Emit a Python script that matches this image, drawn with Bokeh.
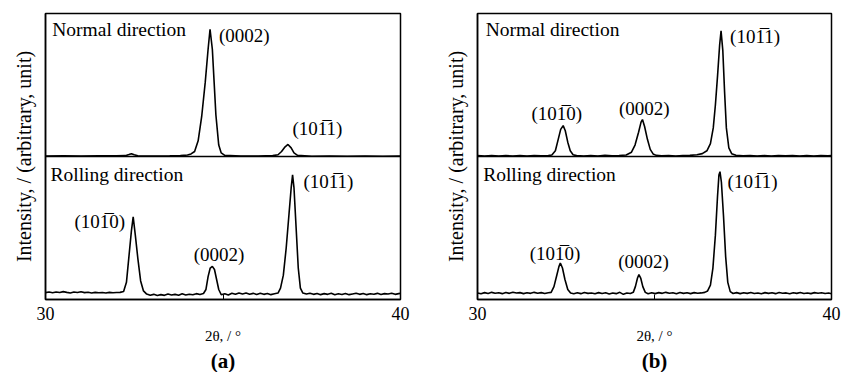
from bokeh.plotting import figure
from bokeh.models import Range1d, FixedTicker, Span, Label, Title
from bokeh.layouts import row
from bokeh.embed import file_html
from bokeh.resources import INLINE

# ---------------- data ----------------
x_ticks = [30, 35, 40]
x_tick_labels = {30: "30", 35: "", 40: "40"}

L1010 = "(101\u03050)"
L1011 = "(101\u03051)"
L0002 = "(0002)"

# (a) normal direction: 2theta, relative intensity
na_x = [30.0, 30.5, 31.0, 31.5, 32.0, 32.25, 32.35, 32.42, 32.5, 32.6, 33.0, 33.5, 33.8,
        34.0, 34.1, 34.2, 34.3, 34.4, 34.5, 34.58, 34.635, 34.7, 34.75, 34.8, 34.88, 34.95,
        35.05, 35.5, 36.0, 36.4, 36.55, 36.65, 36.75, 36.83, 36.92, 37.0, 37.1, 37.5, 38.0,
        38.5, 39.0, 39.5, 40.0]
na_y = [0.004, 0.005, 0.004, 0.005, 0.005, 0.006, 0.014, 0.02, 0.012, 0.005, 0.004, 0.005, 0.006,
        0.01, 0.018, 0.035, 0.11, 0.28, 0.52, 0.75, 0.89, 0.75, 0.52, 0.29, 0.08, 0.025,
        0.008, 0.003, 0.004, 0.006, 0.012, 0.035, 0.068, 0.084, 0.06, 0.025, 0.008, 0.002, 0.003,
        0.002, 0.003, 0.002, 0.003]

# (a) rolling direction
ra_x = [30.0, 30.1, 30.2, 30.3, 30.4, 30.5, 30.6, 30.7, 30.8, 30.9, 31.0, 31.1, 31.2, 31.3,
        31.4, 31.5, 31.6, 31.7, 31.8, 31.9, 32.0, 32.1, 32.2, 32.28, 32.35, 32.42, 32.47,
        32.53, 32.6, 32.68, 32.76, 32.85, 32.95, 33.05, 33.15, 33.25, 33.35, 33.45, 33.55,
        33.65, 33.75, 33.85, 33.95, 34.05, 34.15, 34.25, 34.35, 34.45, 34.52, 34.58, 34.64,
        34.7, 34.76, 34.82, 34.88, 34.95, 35.05, 35.15, 35.25, 35.35, 35.45, 35.55, 35.65,
        35.75, 35.85, 35.95, 36.05, 36.15, 36.25, 36.35, 36.45, 36.55, 36.62, 36.7, 36.78,
        36.86, 36.92, 36.96, 37.0, 37.06, 37.12, 37.18, 37.25, 37.35, 37.45, 37.55, 37.65,
        37.75, 37.85, 37.95, 38.05, 38.15, 38.25, 38.35, 38.45, 38.55, 38.65, 38.75, 38.85,
        38.95, 39.05, 39.15, 39.25, 39.35, 39.45, 39.55, 39.65, 39.75, 39.85, 39.95, 40.0]
ra_y = [0.048, 0.052, 0.047, 0.053, 0.049, 0.055, 0.05, 0.046, 0.052, 0.049, 0.054, 0.048, 0.051, 0.046,
        0.05, 0.047, 0.049, 0.045, 0.05, 0.047, 0.049, 0.05, 0.056, 0.12, 0.3, 0.48, 0.578,
        0.45, 0.29, 0.13, 0.06, 0.038, 0.03, 0.036, 0.028, 0.034, 0.029, 0.038, 0.031,
        0.036, 0.03, 0.04, 0.032, 0.037, 0.033, 0.041, 0.035, 0.042, 0.07, 0.16, 0.22,
        0.232, 0.21, 0.14, 0.07, 0.033, 0.04, 0.032, 0.044, 0.036, 0.046, 0.038, 0.045,
        0.037, 0.043, 0.035, 0.044, 0.036, 0.042, 0.034, 0.04, 0.045, 0.08, 0.17, 0.36,
        0.6, 0.78, 0.871, 0.78, 0.5, 0.22, 0.08, 0.045, 0.038, 0.044, 0.036, 0.042,
        0.034, 0.041, 0.036, 0.043, 0.033, 0.04, 0.035, 0.042, 0.034, 0.039, 0.044, 0.036,
        0.042, 0.034, 0.04, 0.037, 0.043, 0.035, 0.041, 0.038, 0.044, 0.036, 0.041, 0.043]

# (b) normal direction
nb_x = [30.0, 30.2, 30.4, 30.6, 30.8, 31.0, 31.2, 31.4, 31.6, 31.8, 32.0, 32.1, 32.2, 32.28,
        32.35, 32.42, 32.48, 32.55, 32.62, 32.7, 32.8, 33.0, 33.2, 33.4, 33.6, 33.8, 34.0,
        34.2, 34.35, 34.45, 34.55, 34.62, 34.66, 34.72, 34.8, 34.88, 34.96, 35.05, 35.2,
        35.4, 35.6, 35.8, 36.0, 36.2, 36.35, 36.48, 36.58, 36.66, 36.72, 36.78, 36.84, 36.88,
        36.93, 36.98, 37.03, 37.1, 37.18, 37.3, 37.5, 37.7, 37.9, 38.1, 38.3, 38.5, 38.7,
        38.9, 39.1, 39.3, 39.5, 39.7, 39.9, 40.0]
nb_y = [0.006, 0.004, 0.007, 0.004, 0.006, 0.003, 0.006, 0.004, 0.007, 0.005, 0.006, 0.01, 0.04, 0.12,
        0.19, 0.216, 0.18, 0.1, 0.04, 0.012, 0.006, 0.004, 0.007, 0.004, 0.008, 0.005, 0.007,
        0.01, 0.03, 0.08, 0.17, 0.24, 0.258, 0.21, 0.12, 0.05, 0.018, 0.008, 0.005,
        0.007, 0.004, 0.007, 0.008, 0.012, 0.02, 0.04, 0.09, 0.2, 0.36, 0.56, 0.78, 0.878,
        0.74, 0.45, 0.2, 0.06, 0.02, 0.008, 0.005, 0.007, 0.004, 0.006, 0.004, 0.007, 0.005,
        0.006, 0.004, 0.006, 0.004, 0.007, 0.005, 0.006]

# (b) rolling direction
rb_x = [30.0, 30.1, 30.2, 30.3, 30.4, 30.5, 30.6, 30.7, 30.8, 30.9, 31.0, 31.1, 31.2, 31.3,
        31.4, 31.5, 31.6, 31.7, 31.8, 31.9, 32.0, 32.08, 32.16, 32.24, 32.3, 32.34, 32.4,
        32.47, 32.55, 32.63, 32.72, 32.82, 32.92, 33.02, 33.12, 33.22, 33.32, 33.42, 33.52,
        33.62, 33.72, 33.82, 33.92, 34.02, 34.12, 34.22, 34.32, 34.4, 34.46, 34.52, 34.56,
        34.61, 34.67, 34.74, 34.82, 34.92, 35.02, 35.12, 35.22, 35.32, 35.42, 35.52, 35.62,
        35.72, 35.82, 35.92, 36.02, 36.12, 36.22, 36.32, 36.42, 36.5, 36.58, 36.65, 36.72,
        36.78, 36.82, 36.85, 36.89, 36.95, 37.01, 37.07, 37.14, 37.22, 37.32, 37.42, 37.52,
        37.62, 37.72, 37.82, 37.92, 38.02, 38.12, 38.22, 38.32, 38.42, 38.52, 38.62, 38.72,
        38.82, 38.92, 39.02, 39.12, 39.22, 39.32, 39.42, 39.52, 39.62, 39.72, 39.82, 39.92, 40.0]
rb_y = [0.046, 0.04, 0.048, 0.042, 0.05, 0.044, 0.047, 0.041, 0.049, 0.043, 0.051, 0.045, 0.048, 0.041,
        0.047, 0.043, 0.05, 0.044, 0.048, 0.042, 0.047, 0.05, 0.09, 0.17, 0.23, 0.255, 0.22,
        0.14, 0.07, 0.045, 0.04, 0.047, 0.041, 0.049, 0.043, 0.046, 0.04, 0.048, 0.042,
        0.047, 0.039, 0.046, 0.041, 0.05, 0.036, 0.045, 0.042, 0.05, 0.09, 0.15, 0.174,
        0.15, 0.09, 0.05, 0.04, 0.047, 0.041, 0.048, 0.043, 0.05, 0.044, 0.047, 0.04,
        0.049, 0.043, 0.047, 0.041, 0.048, 0.044, 0.046, 0.05, 0.06, 0.1, 0.22, 0.45,
        0.72, 0.87, 0.894, 0.82, 0.58, 0.3, 0.12, 0.055, 0.042, 0.048, 0.041, 0.047,
        0.043, 0.049, 0.042, 0.046, 0.04, 0.048, 0.043, 0.047, 0.041, 0.049, 0.044, 0.046,
        0.04, 0.047, 0.043, 0.049, 0.042, 0.046, 0.041, 0.048, 0.044, 0.047, 0.042, 0.045, 0.04]

FONT = "Liberation Serif"
OFFSET = 1.0  # vertical offset of the normal-direction trace


def make_panel(nx, ny, rx, ry, texts, tag, width, left, right):
    p = figure(width=width, height=372, x_range=Range1d(30, 40), y_range=Range1d(0, 2),
               output_backend="svg", toolbar_location=None,
               min_border_left=left, min_border_right=right,
               min_border_top=13, min_border_bottom=72)
    p.grid.visible = False
    p.outline_line_color = "black"
    p.outline_line_width = 1.5
    p.background_fill_color = "white"
    p.border_fill_color = "white"

    # x axis
    xa = p.xaxis[0]
    xa.ticker = FixedTicker(ticks=x_ticks)
    xa.major_label_overrides = x_tick_labels
    xa.minor_tick_line_color = None
    xa.major_tick_in = 5
    xa.major_tick_out = 0
    xa.major_tick_line_color = "black"
    xa.axis_line_color = "black"
    xa.axis_line_width = 1.5
    xa.major_label_text_font = FONT
    xa.major_label_text_font_size = "18px"
    xa.major_label_text_color = "black"
    xa.major_label_standoff = 7
    xa.axis_label = "2\u03b8, / \u00b0"
    xa.axis_label_text_font = FONT
    xa.axis_label_text_font_size = "15px"
    xa.axis_label_text_font_style = "normal"
    xa.axis_label_text_color = "black"
    xa.axis_label_standoff = 5

    # y axis: label only
    ya = p.yaxis[0]
    ya.ticker = FixedTicker(ticks=[])
    ya.minor_tick_line_color = None
    ya.major_tick_in = 0
    ya.major_tick_out = 0
    ya.axis_line_color = "black"
    ya.axis_line_width = 1.5
    ya.axis_label = "Intensity, / (arbitrary, unit)"
    ya.axis_label_text_font = FONT
    ya.axis_label_text_font_size = "20px"
    ya.axis_label_text_font_style = "normal"
    ya.axis_label_text_color = "black"
    ya.axis_label_standoff = 11

    # divider
    p.add_layout(Span(location=OFFSET, dimension="width", line_color="black", line_width=1.5))

    # traces
    p.line(nx, [OFFSET + v for v in ny], line_color="black", line_width=1.6)
    p.line(rx, ry, line_color="black", line_width=1.6)

    for (tx, ty, txt, align, size) in texts:
        p.add_layout(Label(x=tx, y=ty, text=txt, text_font=FONT, text_font_size=size,
                           text_align=align, text_baseline="middle", text_color="black"))

    t = Title(text=tag, align="center", text_font=FONT, text_font_size="21px",
              text_font_style="bold", text_color="black", standoff=0)
    p.add_layout(t, "below")
    return p


texts_a = [
    (30.19, 1.888, "Normal direction", "left", "19.5px"),
    (30.14, 0.871, "Rolling direction", "left", "19.5px"),
    (35.6, 1.847, L0002, "center", "19px"),
    (37.66, 1.199, L1011, "center", "19px"),
    (31.53, 0.546, L1010, "center", "19px"),
    (34.89, 0.314, L0002, "center", "19px"),
    (37.97, 0.824, L1011, "center", "19px"),
]
texts_b = [
    (30.23, 1.888, "Normal direction", "left", "19.5px"),
    (30.16, 0.871, "Rolling direction", "left", "19.5px"),
    (32.24, 1.301, L1010, "center", "19px"),
    (34.71, 1.336, L0002, "center", "19px"),
    (37.84, 1.84, L1011, "center", "19px"),
    (32.19, 0.325, L1010, "center", "19px"),
    (34.69, 0.267, L0002, "center", "19px"),
    (37.77, 0.824, L1011, "center", "19px"),
]

pa = make_panel(na_x, na_y, ra_x, ra_y, texts_a, "(a)", 430, 45, 30)
pb = make_panel(nb_x, nb_y, rb_x, rb_y, texts_b, "(b)", 414, 47, 13)

layout = row(pa, pb)
open("out.html", "w").write(file_html(layout, INLINE))
